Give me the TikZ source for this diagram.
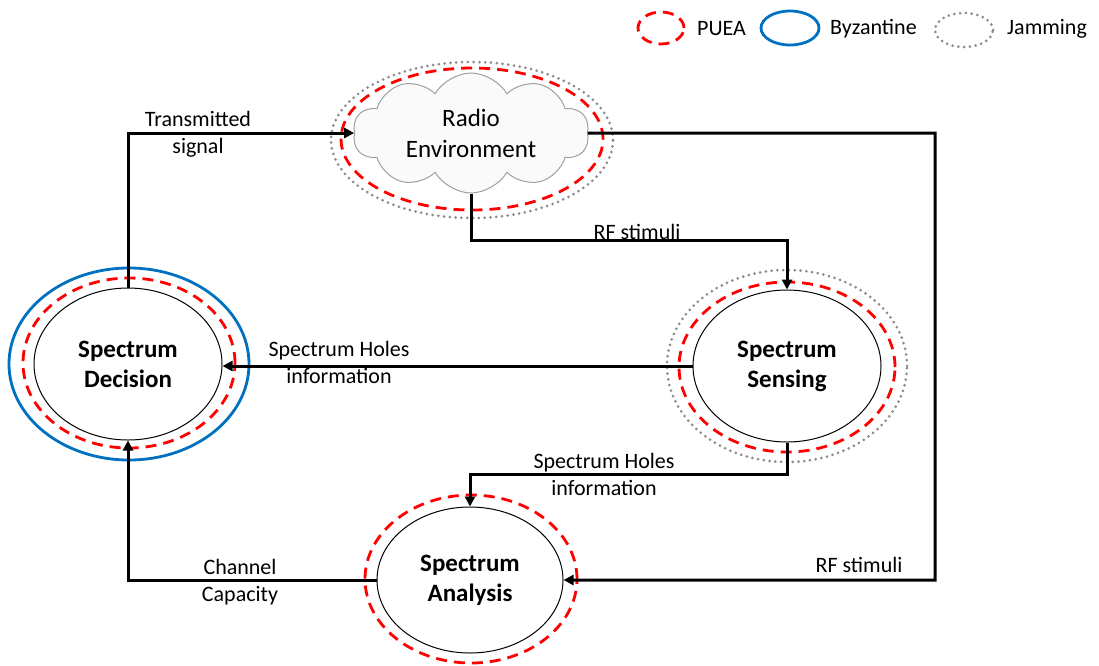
\documentclass[tikz,border=0pt]{standalone}
\usepackage{fontspec}
\setmainfont{Carlito}
\usetikzlibrary{shapes.geometric,shapes.symbols,arrows.meta}
\definecolor{puea}{RGB}{255,0,0}
\definecolor{byz}{RGB}{0,112,192}
\definecolor{jam}{RGB}{140,140,140}
\tikzset{
  core/.style={ellipse, draw=black, line width=1pt, font=\fontsize{25}{30}\selectfont\bfseries, align=center, inner sep=0pt},
  pring/.style={ellipse, draw=puea, line width=2.8pt, dash pattern=on 11pt off 7pt, inner sep=0pt},
  bring/.style={ellipse, draw=byz, line width=2.8pt, inner sep=0pt},
  jring/.style={ellipse, draw=jam, line width=3pt, dash pattern=on 0pt off 5.8pt, line cap=round, inner sep=0pt},
  conn/.style={draw=black, line width=3pt, -{Triangle[length=10pt,width=10pt]}},
  lbl/.style={font=\fontsize{22}{27}\selectfont, align=center, inner sep=0pt},
  leg/.style={font=\fontsize{22}{27}\selectfont, anchor=west, inner sep=0pt}
}
\begin{document}
\begin{tikzpicture}[x=1pt,y=-1pt]
\useasboundingbox (0,0) rectangle (1099,665);
% legend
\node[pring, minimum width=46pt, minimum height=32pt] (lp) at (661,28) {};
\node[leg] (lpt) at (697,29) {PUEA};
\node[bring, minimum width=58pt, minimum height=34pt] (lb) at (790,28) {};
\node[leg] (lbt) at (830,29) {Byzantine};
\node[jring, minimum width=58pt, minimum height=34pt] (lj) at (964,30) {};
\node[leg] (ljt) at (1007,29) {Jamming};
% radio environment
\node[jring, minimum width=282pt, minimum height=156pt] (cj) at (472,140) {};
\node[pring, minimum width=262pt, minimum height=142pt] (cp) at (472,139) {};
\node[cloud, cloud puffs=10, cloud puff arc=120, cloud ignores aspect, draw=gray!75, fill=gray!4, line width=1pt, minimum width=236pt, minimum height=120pt, inner sep=0pt, font=\fontsize{25}{31}\selectfont, align=center] (cloud) at (471,133) {Radio\\Environment};
% spectrum decision
\node[bring, minimum width=240pt, minimum height=192pt] (db) at (129,364) {};
\node[pring, minimum width=212pt, minimum height=170pt] (dp) at (129,363) {};
\node[core, minimum width=188pt, minimum height=152pt] (dec) at (128,364) {Spectrum\\Decision};
% spectrum sensing
\node[jring, minimum width=240pt, minimum height=192pt] (sj) at (787,366) {};
\node[pring, minimum width=216pt, minimum height=170pt] (sp) at (787,367) {};
\node[core, minimum width=188pt, minimum height=152pt] (sens) at (787,366) {Spectrum\\Sensing};
% spectrum analysis
\node[pring, minimum width=212pt, minimum height=168pt] (ap) at (471,579) {};
\node[core, minimum width=186pt, minimum height=146pt] (ana) at (470,580) {Spectrum\\Analysis};
% connectors
\coordinate (rc) at (935,133);
\coordinate (rf1) at (471,240);
\coordinate (sh) at (787,474);
\draw[conn] (dec.north) |- (cloud.west);
\draw[conn] (cloud.east) -- (rc) |- (ana.east);
\draw[conn] (cloud.south) -- (rf1) -| (sens.north);
\draw[conn] (sens.west) -- (dec.east |- sens.west);
\draw[conn] (sens.south) -- (sh) -| (ana.north);
\draw[conn] (ana.west) -| (dec.south);
% labels
\node[lbl] (l1) at (198,134) {Transmitted\\signal};
\node[lbl] (l2) at (637,232) {RF stimuli};
\node[lbl] (l3) at (339,362) {Spectrum Holes\\information};
\node[lbl] (l4) at (604,474) {Spectrum Holes\\information};
\node[lbl] (l5) at (240,582) {Channel\\Capacity};
\node[lbl] (l6) at (859,565) {RF stimuli};
\end{tikzpicture}
\end{document}
